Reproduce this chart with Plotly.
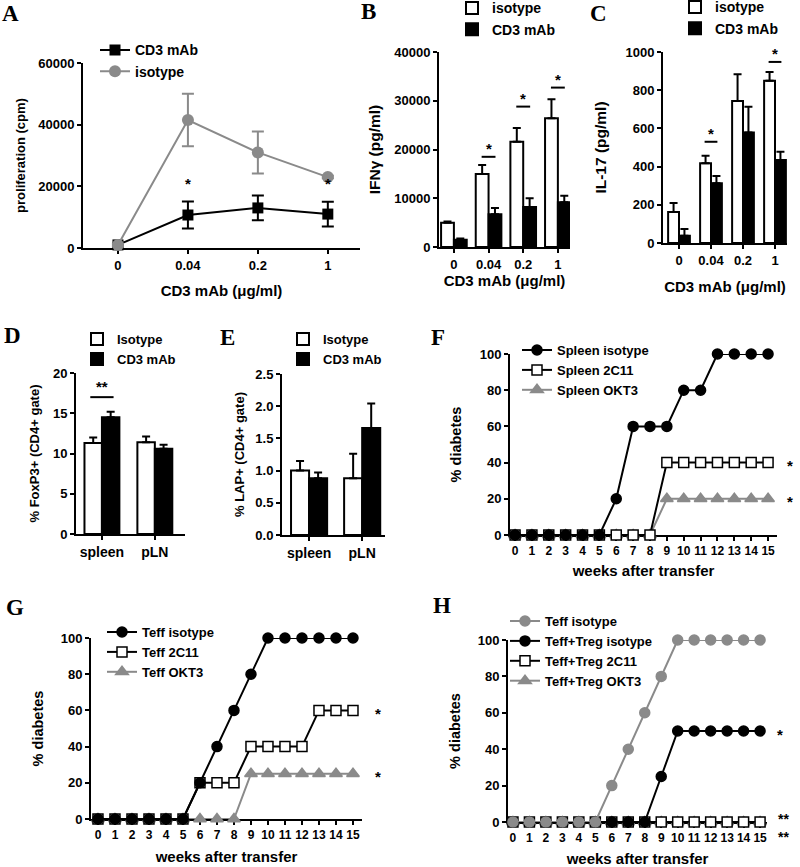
import plotly.graph_objects as go

# ---------------- data ----------------
doses = ["0", "0.04", "0.2", "1"]
dose_idx = [0, 1, 2, 3]

# Panel A: proliferation (cpm)
a_cd3 = [1000, 10700, 13000, 11000]
a_cd3_err = [400, 4400, 4000, 4000]
a_iso = [1000, 41500, 31000, 23000]
a_iso_err = [400, 8500, 6800, 400]
a_star_x = [1, 3]
a_star_y = [17500, 17500]
a_yticks = [0, 20000, 40000, 60000]

# Panel B: IFNy (pg/ml)
b_iso = [5000, 15000, 21600, 26400]
b_iso_err = [250, 1800, 2800, 3900]
b_cd3 = [1500, 6700, 8200, 9200]
b_cd3_err = [250, 1300, 1800, 1300]
b_sig_x = [1, 2, 3]
b_sig_y = [18500, 28800, 32700]
b_yticks = [0, 10000, 20000, 30000, 40000]

# Panel C: IL-17 (pg/ml)
c_iso = [162, 417, 743, 850]
c_iso_err = [48, 40, 140, 45]
c_cd3 = [38, 313, 578, 435]
c_cd3_err = [35, 38, 135, 43]
c_sig_x = [1, 3]
c_sig_y = [530, 948]
c_yticks = [0, 200, 400, 600, 800, 1000]

# Panel D: % FoxP3+
tissues = ["spleen", "pLN"]
tissue_idx = [0, 1]
d_iso = [11.3, 11.4]
d_iso_err = [0.7, 0.7]
d_cd3 = [14.5, 10.6]
d_cd3_err = [0.7, 0.5]
d_sig_x = [0]
d_sig_y = [17.0]
d_yticks = [0, 5, 10, 15, 20]

# Panel E: % LAP+
e_iso = [1.0, 0.88]
e_iso_err = [0.15, 0.38]
e_cd3 = [0.88, 1.66]
e_cd3_err = [0.09, 0.38]
e_yticks = [0.0, 0.5, 1.0, 1.5, 2.0, 2.5]
e_yticktext = ["0.0", "0.5", "1.0", "1.5", "2.0", "2.5"]

weeks = [0, 1, 2, 3, 4, 5, 6, 7, 8, 9, 10, 11, 12, 13, 14, 15]
pct_ticks = [0, 20, 40, 60, 80, 100]
# Panel F
f_iso = [0, 0, 0, 0, 0, 0, 20, 60, 60, 60, 80, 80, 100, 100, 100, 100]
f_2c11 = [0, 0, 0, 0, 0, 0, 0, 0, 0, 40, 40, 40, 40, 40, 40, 40]
f_okt3 = [0, 0, 0, 0, 0, 0, 0, 0, 0, 20, 20, 20, 20, 20, 20, 20]
f_star_y = [40, 20]
# Panel G
g_iso = [0, 0, 0, 0, 0, 0, 20, 40, 60, 80, 100, 100, 100, 100, 100, 100]
g_2c11 = [0, 0, 0, 0, 0, 0, 20, 20, 20, 40, 40, 40, 40, 60, 60, 60]
g_okt3 = [0, 0, 0, 0, 0, 0, 0, 0, 0, 25, 25, 25, 25, 25, 25, 25]
g_star_y = [60, 25]
# Panel H
h_teff_iso = [0, 0, 0, 0, 0, 0, 20, 40, 60, 80, 100, 100, 100, 100, 100, 100]
h_treg_iso = [0, 0, 0, 0, 0, 0, 0, 0, 0, 25, 50, 50, 50, 50, 50, 50]
h_treg_2c11 = [0, 0, 0, 0, 0, 0, 0, 0, 0, 0, 0, 0, 0, 0, 0, 0]
h_treg_okt3 = [0, 0, 0, 0, 0, 0, 0, 0, 0, 0, 0, 0, 0, 0, 0, 0]
h_star_y = [50]

# ---------------- styling ----------------
W, H = 800, 867
GRAY = "#8a8a8a"
FONT = "Liberation Sans"
SERIF = "Liberation Serif"
TICK = 13


def bold(size):
    return dict(family=FONT, size=size, color="black", weight=700)


def btext(labels):
    return [f"<b>{t}</b>" for t in labels]


def xd(p0, p1):
    return [p0 / W, p1 / W]


def yd(top, bottom):
    return [1 - bottom / H, 1 - top / H]


fig = go.Figure()

axis_common = dict(
    showline=True, linecolor="black", linewidth=2, mirror=False,
    ticks="outside", ticklen=4, tickwidth=1.5, tickcolor="black",
    showgrid=False, zeroline=False, layer="below traces", tickangle=0,
    automargin=False,
)

layout = dict(
    width=W, height=H, margin=dict(l=0, r=0, t=0, b=0, pad=0, autoexpand=False),
    paper_bgcolor="white", plot_bgcolor="white",
    font=dict(family=FONT, color="black"),
    barmode="overlay",
)

# subplot geometry (pixels)
geo = {
    1: dict(x=(83, 360), y=(63, 248)),     # A
    2: dict(x=(439, 570), y=(52, 247)),    # B
    3: dict(x=(663, 787), y=(52, 243)),    # C
    4: dict(x=(76, 185), y=(373, 534)),    # D
    5: dict(x=(282, 385), y=(374, 535)),   # E
    6: dict(x=(510, 777), y=(354, 535)),   # F
    7: dict(x=(91, 362), y=(638, 819)),    # G
    8: dict(x=(508, 767), y=(640, 822)),   # H
}


def ax_names(i):
    return ("xaxis" if i == 1 else f"xaxis{i}", "yaxis" if i == 1 else f"yaxis{i}",
            "x" if i == 1 else f"x{i}", "y" if i == 1 else f"y{i}")


def setup(i, xrange, yrange, ytitle, xtitle, tickvals, ticktext, yticks, yticktext,
          xstand, ystand, ytsize, xfont=TICK, xtsize=15):
    xa, ya, xr, yr = ax_names(i)
    g = geo[i]
    xcfg = dict(axis_common)
    xcfg.update(domain=xd(*g["x"]), range=xrange, anchor=yr,
                tickmode="array", tickvals=tickvals, ticktext=btext(ticktext),
                tickfont=bold(xfont),
                title=dict(text=xtitle, standoff=xstand, font=bold(xtsize)))
    ycfg = dict(axis_common)
    ycfg.update(domain=yd(*g["y"]), range=yrange, anchor=xr,
                tickmode="array", tickvals=yticks, ticktext=btext(yticktext),
                tickfont=bold(TICK),
                title=dict(text=ytitle, standoff=ystand, font=bold(ytsize)))
    layout[xa] = xcfg
    layout[ya] = ycfg
    return xr, yr


def legend_cfg(px, row1, size):
    h = size * 1.3 + 3
    top = row1 - (h / 2 + 7)
    return dict(x=px / W, y=1 - top / H, xanchor="left", yanchor="top",
                bgcolor="rgba(0,0,0,0)", borderwidth=0,
                font=bold(size), traceorder="normal", itemwidth=30)


annotations = []
shapes = []


def star(xr, yr, x, y, text="*", size=15, yshift=0):
    annotations.append(dict(xref=xr, yref=yr, x=x, y=y, text=text, showarrow=False,
                            xanchor="center", font=bold(size),
                            yanchor="bottom", yshift=yshift))


def side_star(yr, px, y, text="*", yshift=-3):
    annotations.append(dict(xref="paper", yref=yr, x=px / W, y=y, text=text,
                            showarrow=False, xanchor="center", yanchor="middle",
                            font=bold(15), yshift=yshift))


def sigline(xr, yr, x, y, half=0.2):
    shapes.append(dict(type="line", xref=xr, yref=yr, x0=x - half, x1=x + half,
                       y0=y, y1=y, line=dict(color="black", width=2)))


# ---------- Panel A ----------
xr, yr = setup(1, [-0.5, 3.46], [0, 60000], "proliferation (cpm)", "CD3 mAb (μg/ml)",
               dose_idx, doses, a_yticks, [str(v) for v in a_yticks], 14, 10, 13)
fig.add_trace(go.Scatter(x=dose_idx, y=a_cd3, mode="lines+markers", name="CD3 mAb",
                         xaxis=xr, yaxis=yr, legend="legend", cliponaxis=False,
                         line=dict(color="black", width=2),
                         marker=dict(symbol="square", size=11, color="black"),
                         error_y=dict(type="data", array=a_cd3_err, color="black",
                                      thickness=2, width=6)))
fig.add_trace(go.Scatter(x=dose_idx, y=a_iso, mode="lines+markers", name="isotype",
                         xaxis=xr, yaxis=yr, legend="legend", cliponaxis=False,
                         line=dict(color=GRAY, width=2),
                         marker=dict(symbol="circle", size=12, color=GRAY),
                         error_y=dict(type="data", array=a_iso_err, color=GRAY,
                                      thickness=2, width=6)))
for x, y in zip(a_star_x, a_star_y):
    star(xr, yr, x, y)
layout["legend"] = legend_cfg(95, 52, 14)


def bar_pair(i, iso, iso_err, cd3, cd3_err, xs, names, legname, width):
    xa, ya, xr, yr = ax_names(i)
    zeros = [0] * len(xs)
    fig.add_trace(go.Bar(x=xs, y=iso, name=names[0], xaxis=xr, yaxis=yr, legend=legname,
                         width=width, offset=-width,
                         marker=dict(color="white", line=dict(color="black", width=2)),
                         error_y=dict(type="data", array=iso_err, arrayminus=zeros,
                                      symmetric=False, color="black", thickness=2, width=4)))
    fig.add_trace(go.Bar(x=xs, y=cd3, name=names[1], xaxis=xr, yaxis=yr, legend=legname,
                         width=width, offset=0,
                         marker=dict(color="black", line=dict(color="black", width=2)),
                         error_y=dict(type="data", array=cd3_err, arrayminus=zeros,
                                      symmetric=False, color="black", thickness=2, width=4)))
    return xr, yr


# ---------- Panel B ----------
xr, yr = setup(2, [-0.43, 3.35], [0, 40000], "IFNγ (pg/ml)", "CD3 mAb (μg/ml)",
               dose_idx, doses, b_yticks, [str(v) for v in b_yticks], 2, 10, 15.5)
bar_pair(2, b_iso, b_iso_err, b_cd3, b_cd3_err, dose_idx, ["isotype", "CD3 mAb"], "legend2", 0.37)
for x, y in zip(b_sig_x, b_sig_y):
    sigline(xr, yr, x, y)
    star(xr, yr, x, y, yshift=-2)
layout["legend2"] = legend_cfg(452, 10, 14)

# ---------- Panel C ----------
xr, yr = setup(3, [-0.5, 3.375], [0, 1000], "IL-17 (pg/ml)", "CD3 mAb (μg/ml)",
               dose_idx, doses, c_yticks, [str(v) for v in c_yticks], 15, 15, 15.5)
bar_pair(3, c_iso, c_iso_err, c_cd3, c_cd3_err, dose_idx, ["isotype", "CD3 mAb"], "legend3", 0.34)
for x, y in zip(c_sig_x, c_sig_y):
    sigline(xr, yr, x, y)
    star(xr, yr, x, y, yshift=-2)
layout["legend3"] = legend_cfg(675, 9, 14)

# ---------- Panel D ----------
xr, yr = setup(4, [-0.49, 1.57], [0, 20], "% FoxP3+ (CD4+ gate)", "",
               tissue_idx, tissues, d_yticks, [str(v) for v in d_yticks], 6, 10, 13, xfont=14)
bar_pair(4, d_iso, d_iso_err, d_cd3, d_cd3_err, tissue_idx, ["Isotype", "CD3 mAb"], "legend4", 0.33)
for x, y in zip(d_sig_x, d_sig_y):
    sigline(xr, yr, x, y, half=0.22)
    star(xr, yr, x, y, text="**", yshift=0)
layout["legend4"] = legend_cfg(77, 341, 13)

# ---------- Panel E ----------
xr, yr = setup(5, [-0.51, 1.43], [0, 2.5], "% LAP+ (CD4+ gate)", "",
               tissue_idx, tissues, e_yticks, e_yticktext, 6, 8, 13, xfont=14)
bar_pair(5, e_iso, e_iso_err, e_cd3, e_cd3_err, tissue_idx, ["Isotype", "CD3 mAb"], "legend5", 0.34)
layout["legend5"] = legend_cfg(283, 341, 13)


def curve(i, y, name, legname, symbol, color, fill, size=10):
    xa, ya, xr, yr = ax_names(i)
    fig.add_trace(go.Scatter(x=weeks, y=y, mode="lines+markers", name=name,
                             xaxis=xr, yaxis=yr, legend=legname, cliponaxis=False,
                             line=dict(color=color, width=2),
                             marker=dict(symbol=symbol, size=size, color=fill,
                                         line=dict(color=color, width=1.5))))


wk_text = [str(w) for w in weeks]
pct_text = [str(v) for v in pct_ticks]

# ---------- Panel F ----------
xr, yr = setup(6, [-0.3, 15.53], [0, 100], "% diabetes", "weeks after transfer",
               weeks, wk_text, pct_ticks, pct_text, 8, 15, 14.5, xfont=12)
curve(6, f_okt3, "Spleen OKT3", "legend6", "triangle-up", GRAY, GRAY, 11)
curve(6, f_2c11, "Spleen 2C11", "legend6", "square", "black", "white")
curve(6, f_iso, "Spleen isotype", "legend6", "circle", "black", "black")
for y in f_star_y:
    side_star(yr, 790, y)
layout["legend6"] = legend_cfg(517, 352, 13)
layout["legend6"]["traceorder"] = "reversed"

# ---------- Panel G ----------
xr, yr = setup(7, [-0.41, 15.53], [0, 100], "% diabetes", "weeks after transfer",
               weeks, wk_text, pct_ticks, pct_text, 10, 14, 14.5, xfont=12)
curve(7, g_okt3, "Teff OKT3", "legend7", "triangle-up", GRAY, GRAY, 11)
curve(7, g_2c11, "Teff 2C11", "legend7", "square", "black", "white")
curve(7, g_iso, "Teff isotype", "legend7", "circle", "black", "black")
layout["legend7"] = legend_cfg(102, 634, 13)
layout["legend7"]["traceorder"] = "reversed"
for y in g_star_y:
    side_star(yr, 378, y)

# ---------- Panel H ----------
xr, yr = setup(8, [-0.3, 15.42], [0, 100], "% diabetes", "weeks after transfer",
               weeks, wk_text, pct_ticks, pct_text, 10, 14, 14.5, xfont=12)
curve(8, h_treg_okt3, "Teff+Treg OKT3", "legend8", "triangle-up", GRAY, GRAY, 11)
curve(8, h_treg_2c11, "Teff+Treg 2C11", "legend8", "square", "black", "white")
curve(8, h_treg_iso, "Teff+Treg isotype", "legend8", "circle", "black", "black")
curve(8, h_teff_iso, "Teff isotype", "legend8", "circle", GRAY, GRAY)
layout["legend8"] = legend_cfg(505, 623, 13)
layout["legend8"]["traceorder"] = "reversed"
for y in h_star_y:
    side_star(yr, 780, y)
annotations.append(dict(xref="paper", yref=yr, x=783 / W, y=0, text="**<br>**",
                        showarrow=False, xanchor="center", yanchor="middle",
                        font=bold(14), yshift=-6))

# ---------- panel letters ----------
letters = ["A", "B", "C", "D", "E", "F", "G", "H"]
letter_px = [(10, 13), (368, 12), (598, 13), (12, 335), (228, 337), (438, 337), (15, 607), (442, 605)]
for t, (px, py) in zip(letters, letter_px):
    annotations.append(dict(xref="paper", yref="paper", x=px / W, y=1 - py / H, text=t,
                            showarrow=False, xanchor="center", yanchor="middle",
                            font=dict(family=SERIF, size=23, color="black", weight=700)))

layout["annotations"] = annotations
layout["shapes"] = shapes
fig.update_layout(**layout)
fig.write_html("out.html", config={"displayModeBar": False},
               post_script="document.body.style.margin='0';document.body.style.overflow='hidden';")
